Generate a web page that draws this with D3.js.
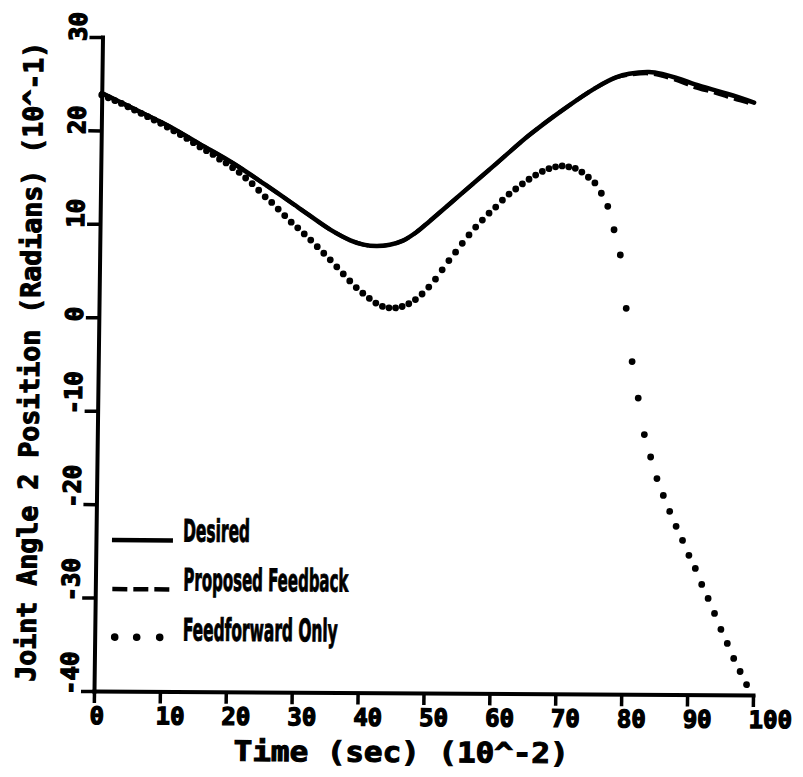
<!DOCTYPE html>
<html><head><meta charset="utf-8">
<script src="https://cdn.jsdelivr.net/npm/d3@7"></script>
<style>body{margin:0;background:#fff}</style>
</head><body>
<script>
// ---- data (time in 10^-2 sec, angle in 10^-1 rad) ----
const desiredTime  = [0,5,10,15,20,25,30,35,38,40,42,44,46,48,50,55,60,65,70,75,78,80,83,85,88,90,95,99];
const desiredValue = [24.0,22.3,20.6,18.6,16.6,14.3,11.9,9.5,8.4,7.95,7.8,7.95,8.4,9.3,10.5,13.6,16.7,19.8,22.5,24.9,26.0,26.4,26.6,26.4,25.8,25.3,24.3,23.4];

const feedbackTime  = [0,5,10,15,20,25,30,35,38,40,42,44,46,48,50,55,60,65,70,75,78,80,83,85,88,90,93,95,97,99];
const feedbackValue = [24.0,22.3,20.6,18.6,16.6,14.3,11.9,9.5,8.4,7.95,7.8,7.95,8.4,9.3,10.5,13.6,16.7,19.8,22.5,24.9,26.0,26.3,26.45,26.2,25.55,25.0,24.45,24.0,23.6,23.2];

const feedforwardTime = [0,1,2,3,4,5,6,7,8,9,10,11,12,13,14,15,16,17,18,19,20,21,22,23,24,25,26,27,28,29,
  30,31,32,33,34,35,36,37,38,39,40,41,42,43,44,45,46,47,48,49,50,51,52,53,54,55,56,57,58,59,
  60,61,62,63,64,65,66,67,68,69,70,71,72,73,74,75,76,77,78,79,80,81,82,83,84,85,86,87,88,89,
  90,91,92,93,94,95,96,97,98,99];
const feedforwardValue = [
  23.8,23.5,23.2,22.9,22.55,22.2,21.85,21.5,21.15,20.8,
  20.4,20.0,19.6,19.2,18.75,18.3,17.9,17.5,17.0,16.6,
  16.1,15.6,15.0,14.4,13.7,13.0,12.4,11.7,11.0,10.3,
  9.7,9.05,8.4,7.7,7.0,6.3,5.55,4.8,4.05,3.35,
  2.75,2.2,1.7,1.35,1.2,1.2,1.35,1.65,2.1,2.7,
  3.45,4.3,5.3,6.3,7.2,8.15,9.05,9.9,10.65,11.4,
  12.05,12.8,13.45,14.0,14.55,15.05,15.5,15.9,16.2,16.4,
  16.5,16.4,16.25,15.85,15.3,14.7,13.6,12.2,9.7,7.0,
  1.3,-4.4,-8.3,-12.2,-14.6,-16.9,-18.7,-20.4,-22.0,-23.5,
  -25.1,-26.5,-28.2,-29.7,-31.3,-33.0,-34.5,-36.1,-37.5,-38.9];

const xTicks = [0,10,20,30,40,50,60,70,80,90,100];
const yTicks = [-40,-30,-20,-10,0,10,20,30];
const legendLabels = ["Desired","Proposed Feedback","Feedforward Only"];
const xTitle = "Time (sec) (10^-2)";
const yTitle = "Joint Angle 2 Position (Radians) (10^-1)";

// ---- drawing ----
const W = 803, H = 777;
const x = d3.scaleLinear().domain([0,100]).range([94,753]);
const y = d3.scaleLinear().domain([-40,30]).range([691,37]);

const svg = d3.select("body").append("svg").attr("width",W).attr("height",H);
svg.append("rect").attr("width",W).attr("height",H).attr("fill","#fff");
// slight skew of the scanned original
const g = svg.append("g").attr("transform","matrix(1,0.006,-0.013,1,8.98,-0.56)");

const mono = "'DejaVu Sans Mono','Liberation Mono',monospace";
const narrow = "'Liberation Sans Narrow','DejaVu Sans Condensed','Liberation Sans',sans-serif";

// axes
const xAxis = g.append("g").attr("transform",`translate(0,${y(-40)})`)
  .call(d3.axisBottom(x).tickValues(xTicks).tickSize(12).tickSizeOuter(0).tickFormat(""));
const yAxis = g.append("g").attr("transform",`translate(${x(0)},0)`)
  .call(d3.axisLeft(y).tickValues(yTicks).tickSize(13).tickSizeOuter(0).tickFormat(""));
[xAxis,yAxis].forEach(a=>{
  a.select(".domain").attr("stroke","#000").attr("stroke-width",4).attr("stroke-linecap","square");
  a.selectAll(".tick line").attr("stroke","#000").attr("stroke-width",3.5);
});

// tick labels
g.append("g").selectAll("text").data(xTicks).join("text")
  .attr("x",d=>x(d)-4).attr("y",724)
  .attr("font-family",mono).attr("font-weight","bold").attr("font-size",24)
  .attr("fill","#000").attr("stroke","#000").attr("stroke-width",1.3).text(d=>d);
g.append("g").selectAll("text").data(yTicks).join("text")
  .attr("transform",d=>`translate(78,${y(d)+4}) rotate(-90)`)
  .attr("text-anchor","start")
  .attr("font-family",mono).attr("font-weight","bold").attr("font-size",24)
  .attr("fill","#000").attr("stroke","#000").attr("stroke-width",1.3).text(d=>d);

// axis titles
g.append("text").attr("x",402).attr("y",760).attr("text-anchor","middle")
  .attr("font-family",mono).attr("font-weight","bold").attr("font-size",28)
  .attr("fill","#000").attr("stroke","#000").attr("stroke-width",1.1)
  .attr("textLength",335).attr("lengthAdjust","spacingAndGlyphs").text(xTitle);
g.append("text").attr("transform","translate(35,362) rotate(-90)").attr("text-anchor","middle")
  .attr("font-family",mono).attr("font-weight","bold").attr("font-size",27)
  .attr("fill","#000").attr("stroke","#000").attr("stroke-width",1.1)
  .attr("textLength",640).attr("lengthAdjust","spacingAndGlyphs").text(yTitle);

// series
const line = d3.line().x(d=>x(d[0])).y(d=>y(d[1])).curve(d3.curveCatmullRom.alpha(0.5));
g.append("path").datum(d3.zip(desiredTime,desiredValue)).attr("d",line)
  .attr("fill","none").attr("stroke","#000").attr("stroke-width",4.5).attr("stroke-linecap","round");
g.append("path").datum(d3.zip(feedbackTime,feedbackValue)).attr("d",line)
  .attr("fill","none").attr("stroke","#000").attr("stroke-width",4).attr("stroke-dasharray","15,6");
g.append("g").selectAll("circle").data(d3.zip(feedforwardTime,feedforwardValue)).join("circle")
  .attr("cx",d=>x(d[0])).attr("cy",d=>y(d[1])).attr("r",3.4).attr("fill","#000");

// legend
const lg = g.append("g");
lg.append("line").attr("x1",110).attr("x2",171).attr("y1",540).attr("y2",540)
  .attr("stroke","#000").attr("stroke-width",4.5);
lg.append("line").attr("x1",111).attr("x2",172).attr("y1",589).attr("y2",589)
  .attr("stroke","#000").attr("stroke-width",4.5).attr("stroke-dasharray","15,6");
lg.append("g").selectAll("circle").data([114,136,159]).join("circle")
  .attr("cx",d=>d).attr("cy",637).attr("r",3.8).attr("fill","#000");
const legendPos = [[181,541,67],[182,590,165],[182,640,155]];
lg.append("g").selectAll("text").data(legendLabels).join("text")
  .attr("x",(d,i)=>legendPos[i][0]).attr("y",(d,i)=>legendPos[i][1])
  .attr("textLength",(d,i)=>legendPos[i][2]).attr("lengthAdjust","spacingAndGlyphs")
  .attr("font-family",narrow).attr("font-weight","bold").attr("font-size",31)
  .attr("fill","#000").attr("stroke","#000").attr("stroke-width",0.9).text(d=>d);
</script>
</body></html>
